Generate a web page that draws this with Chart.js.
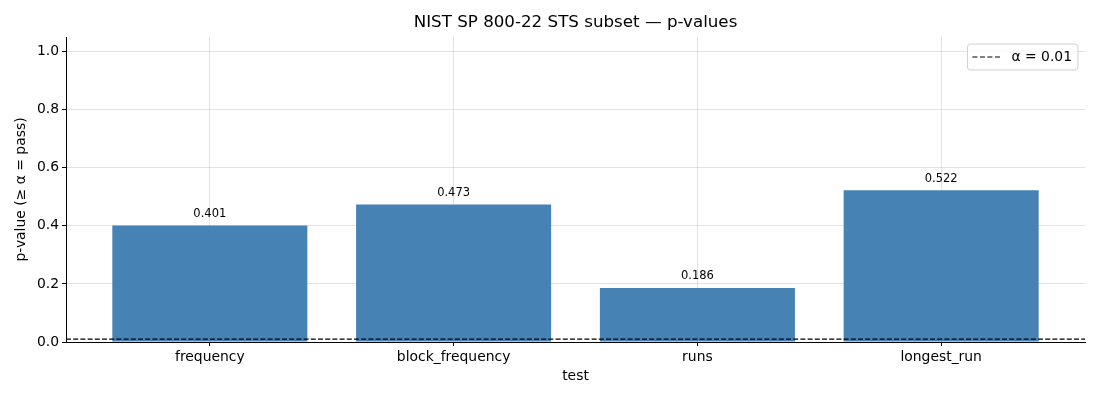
<!DOCTYPE html>
<html>
<head>
  <meta charset="utf-8">
  <title>NIST STS p-values</title>
  <style>
    body { margin: 0; background: #fff; }
    .chart-container { position: relative; width: 1100px; height: 400px; }
  </style>
  <script src="https://cdn.jsdelivr.net/npm/chart.js"></script>
</head>
<body>
  <div class="chart-container">
    <canvas id="chartCanvas"></canvas>
  </div>

  <script>
    // Data.
    var tests = ['frequency', 'block_frequency', 'runs', 'longest_run'];
    var pValues = [0.401, 0.473, 0.186, 0.522];
    var alpha = 0.01;
    var yTicks = [0, 0.2, 0.4, 0.6, 0.8, 1.0];
    var titleText = 'NIST SP 800-22 STS subset — p-values';

    var FONT = 'DejaVu Sans, sans-serif';
    var xMin = -0.59, xMax = 3.59;

    var barPoints = tests.map(function(t, i) { return { x: i, y: pValues[i] }; });
    var alphaLine = [{ x: xMin, y: alpha }, { x: xMax, y: alpha }];

    // Value labels above each bar.
    var valueLabels = {
      id: 'valueLabels',
      afterDatasetsDraw: function(chart) {
        var ctx = chart.ctx;
        var meta = chart.getDatasetMeta(0);
        ctx.save();
        ctx.font = '11.5px ' + FONT;
        ctx.fillStyle = '#000';
        ctx.textAlign = 'center';
        ctx.textBaseline = 'bottom';
        meta.data.forEach(function(bar, i) {
          ctx.fillText(pValues[i].toFixed(3), bar.x, bar.y - 6);
        });
        ctx.restore();
      }
    };

    // Title centred over the plot area, plus a boxed legend in the upper right.
    var titleAndLegend = {
      id: 'titleAndLegend',
      afterDraw: function(chart) {
        var ctx = chart.ctx;
        var area = chart.chartArea;
        ctx.save();
        ctx.fillStyle = '#000';
        ctx.font = '16.7px ' + FONT;
        ctx.textAlign = 'center';
        ctx.textBaseline = 'middle';
        ctx.fillText(titleText, (area.left + area.right) / 2, 23);

        var text = 'α = 0.01';
        ctx.font = '13.9px ' + FONT;
        ctx.textAlign = 'left';
        var tw = ctx.measureText(text).width;
        var w = 44 + tw + 6;
        var h = 26;
        var x = area.right - 7 - w;
        var y = area.top + 7;
        ctx.beginPath();
        ctx.roundRect(x, y, w, h, 3);
        ctx.fillStyle = 'rgba(255,255,255,0.8)';
        ctx.fill();
        ctx.strokeStyle = '#d0d0d0';
        ctx.lineWidth = 1;
        ctx.stroke();
        ctx.beginPath();
        ctx.setLineDash([5, 2.5]);
        ctx.strokeStyle = '#000';
        ctx.lineWidth = 1.2;
        ctx.moveTo(x + 5, y + h / 2);
        ctx.lineTo(x + 35, y + h / 2);
        ctx.stroke();
        ctx.setLineDash([]);
        ctx.fillStyle = '#000';
        ctx.fillText(text, x + 44, y + h / 2 + 0.5);
        ctx.restore();
      }
    };

    var ctx = document.getElementById('chartCanvas').getContext('2d');
    var pChart = new Chart(ctx, {
      type: 'bar',
      data: {
        datasets: [
          {
            type: 'bar',
            label: 'p-value',
            data: barPoints,
            backgroundColor: '#4682b4',
            borderWidth: 0,
            barPercentage: 0.8,
            categoryPercentage: 1.0,
            order: 2
          },
          {
            type: 'line',
            label: 'α = 0.01',
            data: alphaLine,
            borderColor: '#000',
            borderWidth: 1.2,
            borderDash: [5, 2.2],
            pointRadius: 0,
            fill: false,
            order: 1
          }
        ]
      },
      options: {
        responsive: true,
        maintainAspectRatio: false,
        animation: false,
        layout: { padding: { left: 0, right: 15, top: 37, bottom: 0 } },
        plugins: {
          legend: { display: false },
          tooltip: { enabled: false },
          title: { display: false }
        },
        scales: {
          x: {
            type: 'linear',
            min: xMin,
            max: xMax,
            offset: false,
            z: 1,
            afterBuildTicks: function(scale) {
              scale.ticks = tests.map(function(t, i) { return { value: i }; });
            },
            afterFit: function(scale) { scale.height = 58; },
            ticks: {
              color: '#000',
              font: { family: FONT, size: 13.9 },
              padding: 3,
              maxRotation: 0,
              callback: function(v) { return tests[v]; }
            },
            grid: {
              offset: false,
              color: 'rgba(176,176,176,0.35)',
              tickColor: '#000',
              tickLength: 4
            },
            border: { display: true, color: '#000', width: 1 },
            title: {
              display: true,
              text: 'test',
              color: '#000',
              font: { family: FONT, size: 13.9 },
              padding: { top: 4, bottom: 15 }
            }
          },
          y: {
            min: 0,
            max: 1.05,
            z: 1,
            afterBuildTicks: function(scale) {
              scale.ticks = yTicks.map(function(v) { return { value: v }; });
            },
            afterFit: function(scale) { scale.width = 66; },
            ticks: {
              color: '#000',
              font: { family: FONT, size: 13.9 },
              padding: 3,
              callback: function(v) { return v.toFixed(1); }
            },
            grid: {
              color: 'rgba(176,176,176,0.35)',
              tickColor: '#000',
              tickLength: 4
            },
            border: { display: true, color: '#000', width: 1 },
            title: {
              display: true,
              text: 'p-value (≥ α = pass)',
              color: '#000',
              font: { family: FONT, size: 13.9 },
              padding: { top: 13, bottom: 4 }
            }
          }
        }
      },
      plugins: [valueLabels, titleAndLegend]
    });
  </script>
</body>
</html>
